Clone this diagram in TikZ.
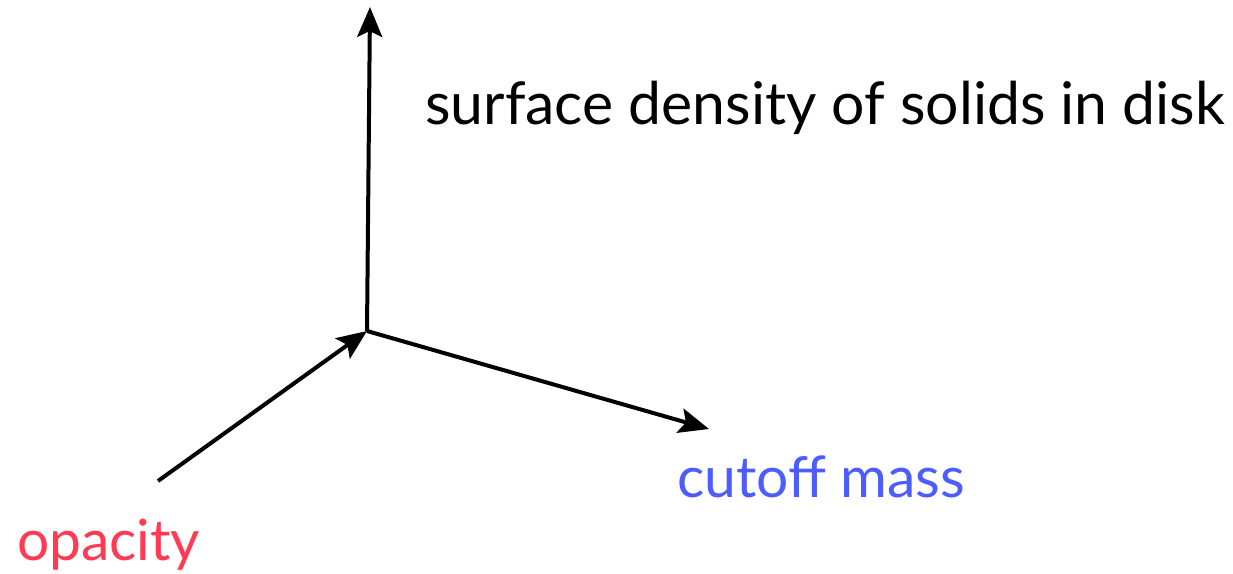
\documentclass[tikz,border=0pt]{standalone}
\usepackage{fontspec}
\setmainfont{Lato}
\usetikzlibrary{arrows.meta}
\definecolor{optred}{RGB}{255,58,82}
\definecolor{cutblue}{RGB}{76,92,255}
\tikzset{
  axis/.style={line width=4pt, -{Stealth[length=30pt,width=25pt,inset=6pt]}},
  lbl/.style={anchor=base west, inner sep=0pt, font=\fontsize{50}{60}\selectfont}
}
\begin{document}
\begin{tikzpicture}[x=1pt,y=1pt]
\useasboundingbox (0,0) rectangle (1233,573);
\coordinate (O) at (367,242);
\coordinate (Z) at (370,566);
\coordinate (Xs) at (158,92);
\coordinate (Y) at (709,144);
\draw[axis] (O) -- (Z);
\draw[axis] (Xs) -- (O);
\draw[axis] (O) -- (Y);
\node[lbl] (s) at (425,448) {\resizebox{800pt}{!}{surface density of solids in disk}};
\node[lbl, text=cutblue] (c) at (677,76) {\resizebox{288pt}{!}{cutoff mass}};
\node[lbl, text=optred] (o) at (17,13) {\resizebox{183pt}{!}{opacity}};
\end{tikzpicture}
\end{document}
